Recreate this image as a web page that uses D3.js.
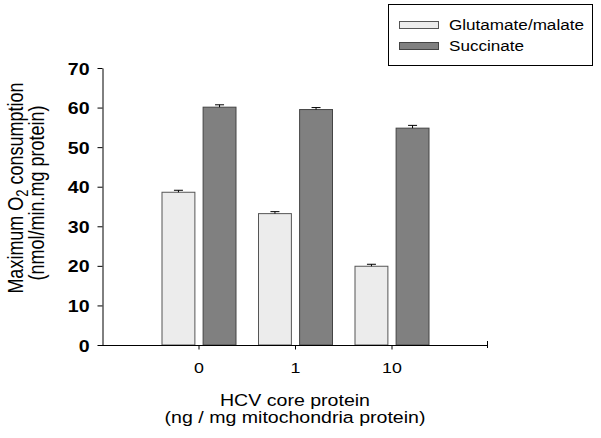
<!DOCTYPE html>
<html><head><meta charset="utf-8">
<script src="https://cdn.jsdelivr.net/npm/d3@7"></script>
<style>body{margin:0;background:#fff}svg{display:block}text{font-family:"Liberation Sans",Arial,sans-serif;fill:#000}</style>
</head><body><svg id="c" width="601" height="438"></svg>
<script>
const categories = ["0", "1", "10"];
const seriesNames = ["Glutamate/malate", "Succinate"];
const glutamate = [38.6, 33.2, 19.9];
const glutamateErr = [0.5, 0.5, 0.5];
const succinate = [60.1, 59.5, 54.8];
const succinateErr = [0.6, 0.5, 0.7];
const yTicks = [0, 10, 20, 30, 40, 50, 60, 70];

const SX = 1.15;
const fills = ["#ececec", "#808080"];
const strokes = ["#555", "#444"];
const svg = d3.select("#c");
const L = 102, R = 488, T = 68, B = 345;

const x = d3.scalePoint().domain(categories).range([L, R]).padding(1);
const xs = d3.scaleBand().domain(seriesNames).range([-37, 37]).paddingInner(0.2);
const y = d3.scaleLinear().domain([0, 70]).range([B, T]);

const series = [
  {name: seriesNames[0], vals: glutamate, errs: glutamateErr},
  {name: seriesNames[1], vals: succinate, errs: succinateErr}
];

// bars
series.forEach((s, si) => {
  const g = svg.append("g");
  g.selectAll("rect").data(categories).join("rect")
    .attr("x", c => x(c) + xs(s.name) + 0.5)
    .attr("y", (c, i) => y(s.vals[i]))
    .attr("width", xs.bandwidth())
    .attr("height", (c, i) => y(0) - y(s.vals[i]))
    .attr("fill", fills[si]).attr("stroke", strokes[si]).attr("stroke-width", 1);
  // error bars (upper only)
  categories.forEach((c, i) => {
    const cx = x(c) + xs(s.name) + xs.bandwidth() / 2 + 0.5;
    const y1 = y(s.vals[i]), y2 = y(s.vals[i] + s.errs[i]);
    g.append("line").attr("x1", cx).attr("x2", cx).attr("y1", y1).attr("y2", y2).attr("stroke", "#000");
    g.append("line").attr("x1", cx - 4.5).attr("x2", cx + 4.5).attr("y1", y2).attr("y2", y2).attr("stroke", "#000");
  });
});

// axes
const yAxis = d3.axisLeft(y).tickValues(yTicks).tickSize(5).tickSizeOuter(0).tickPadding(8);
const gy = svg.append("g").attr("transform", `translate(${L + 0.5},0)`).call(yAxis);
gy.select(".domain").attr("stroke", "#000");
gy.selectAll(".tick line").attr("stroke", "#000");
gy.selectAll(".tick text").attr("font-size", 17).attr("font-weight", "bold")
  .attr("font-family", '"Liberation Sans",Arial,sans-serif').attr("fill", "#000")
  .each(function () {
    const t = d3.select(this); const tx = +t.attr("x");
    t.attr("x", 0).attr("dy", "0.36em").attr("transform", `translate(${tx},0) scale(${SX},1)`);
  });

const xAxis = d3.axisBottom(x).tickSize(4).tickSizeOuter(0).tickPadding(12);
const gx = svg.append("g").attr("transform", `translate(0,${B + 0.5})`).call(xAxis);
gx.select(".domain").attr("stroke", "#000").attr("d", `M${L},0H${R}`);
gx.selectAll(".tick line").attr("stroke", "#000");
gx.selectAll(".tick text").attr("font-size", 15.5)
  .attr("font-family", '"Liberation Sans",Arial,sans-serif').attr("fill", "#000")
  .each(function () {
    const t = d3.select(this); const ty = +t.attr("y");
    t.attr("y", 0).attr("transform", `translate(0,${ty}) scale(${SX},1)`);
  });
svg.append("line").attr("x1", R - 0.5).attr("x2", R - 0.5).attr("y1", B - 4).attr("y2", B + 3).attr("stroke", "#000");

// x title
const xt = [["HCV core protein", 406], ["(ng / mg mitochondria protein)", 423]];
xt.forEach(([s, yy]) => {
  svg.append("text").attr("text-anchor", "middle").attr("font-size", 16.3)
    .attr("transform", `translate(${x("1")},${yy}) scale(1.2,1)`).text(s);
});

// y title
const yt1 = svg.append("text").attr("text-anchor", "middle").attr("font-size", 18)
  .attr("transform", `translate(23,188) rotate(-90) scale(1,1.2)`);
yt1.append("tspan").text("Maximum O");
yt1.append("tspan").attr("font-size", 13).attr("dy", 4).text("2");
yt1.append("tspan").attr("dy", -4).text(" consumption");
svg.append("text").attr("text-anchor", "middle").attr("font-size", 18)
  .attr("transform", `translate(43.5,193) rotate(-90) scale(1,1.2)`).text("(nmol/min.mg protein)");

// legend
svg.append("rect").attr("x", 388.5).attr("y", 4.5).attr("width", 204).attr("height", 61)
  .attr("fill", "#fff").attr("stroke", "#000");
series.forEach((s, si) => {
  const ly = [21, 42][si];
  svg.append("rect").attr("x", 399.5).attr("y", ly + 0.5).attr("width", 39).attr("height", 7)
    .attr("fill", fills[si]).attr("stroke", strokes[si]);
  svg.append("text").attr("font-size", 15.5)
    .attr("transform", `translate(449,${ly + 8.5}) scale(${SX * 0.96},1)`).text(s.name);
});
</script></body></html>
